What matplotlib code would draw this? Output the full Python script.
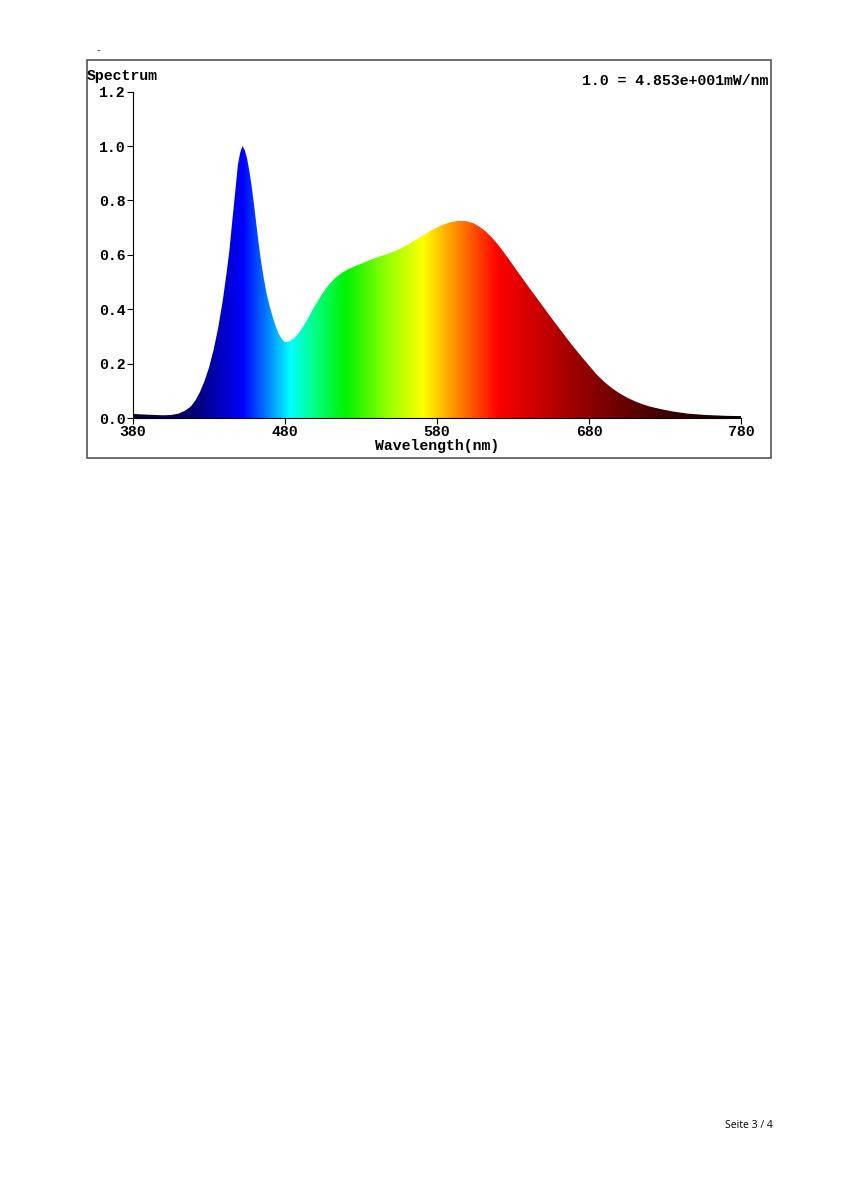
import numpy as np
import matplotlib
matplotlib.use('Agg')
import matplotlib.pyplot as plt
import matplotlib.patches as mplpatches
from matplotlib.colors import LinearSegmentedColormap

# spectrum (normalised, 1.0 = 48.53 mW/nm)
wavelength = [380, 390, 400, 405, 410, 414, 418, 421, 424, 427, 430, 433, 436, 439, 441.5, 443.5, 445.5,
              447.5, 449, 450.5, 452, 453.5, 455, 456.5, 458, 459.5, 461, 462.5, 464, 466, 468, 470, 472,
              474, 476, 478, 480, 483, 486, 489, 492, 495, 498, 501, 504, 507, 510, 513, 516, 519, 522,
              526, 531, 537, 543, 549, 555, 561, 567, 573, 579, 584, 589, 594, 599, 604, 608, 612, 616,
              620, 624, 628, 632, 636, 640, 645, 650, 655, 660, 665, 670, 675, 680, 685, 690, 695, 700,
              705, 710, 715, 720, 727, 735, 745, 757, 770, 780]
intensity = [0.015, 0.012, 0.010, 0.011, 0.016, 0.026, 0.042, 0.064, 0.095, 0.135, 0.185, 0.25, 0.33,
             0.43, 0.53, 0.62, 0.735, 0.845, 0.93, 0.975, 1.0, 0.985, 0.955, 0.91, 0.855, 0.79, 0.72,
             0.65, 0.585, 0.515, 0.455, 0.41, 0.37, 0.335, 0.308, 0.29, 0.279, 0.282, 0.293, 0.312,
             0.337, 0.365, 0.396, 0.425, 0.452, 0.476, 0.497, 0.514, 0.528, 0.539, 0.548, 0.558, 0.569,
             0.583, 0.595, 0.606, 0.62, 0.638, 0.658, 0.679, 0.698, 0.711, 0.72, 0.725, 0.724, 0.716,
             0.703, 0.686, 0.664, 0.638, 0.609, 0.578, 0.546, 0.515, 0.484, 0.446, 0.408, 0.37, 0.333,
             0.296, 0.26, 0.226, 0.193, 0.16, 0.133, 0.11, 0.091, 0.075, 0.062, 0.051, 0.042, 0.033,
             0.024, 0.016, 0.011, 0.008, 0.007]

xticks = [380, 480, 580, 680, 780]
yticks = [0.0, 0.2, 0.4, 0.6, 0.8, 1.0, 1.2]

# colour stops along the wavelength axis
stop_nm = [380, 420, 440, 452, 468, 483, 500, 520, 548, 571, 595, 620, 666, 720, 780]
stop_col = [(0.02, 0.02, 0.15), (0.0, 0.0, 0.45), (0.0, 0.0, 0.8), (0.0, 0.0, 1.0), (0.0, 0.5, 1.0),
            (0.0, 1.0, 1.0), (0.0, 1.0, 0.5), (0.0, 0.95, 0.0), (0.6, 1.0, 0.0), (1.0, 1.0, 0.0),
            (1.0, 0.5, 0.0), (1.0, 0.0, 0.0), (0.65, 0.0, 0.0), (0.3, 0.0, 0.0), (0.0, 0.0, 0.0)]

mono = 'Liberation Mono'
fs = 10.75

fig = plt.figure(figsize=(8.49, 12), dpi=100)

# outer frame
frame = mplpatches.Rectangle((87/849, 1-458/1200), (771-87)/849, 398/1200, transform=fig.transFigure,
                             fill=False, edgecolor='#555555', linewidth=1.2)
fig.patches.append(frame)
fig.text(97/849, 1-50/1200, '-', fontsize=7, color='#444444', ha='left', va='center')

ax = fig.add_axes([133/849, 1-418/1200, (741-133)/849, 326.4/1200])

pos = [(w - 380) / 400 for w in stop_nm]
cmap = LinearSegmentedColormap.from_list('spec', list(zip(pos, stop_col)), N=512)
grad = np.linspace(0, 1, 800).reshape(1, -1)
img = ax.imshow(grad, cmap=cmap, extent=[380, 780, 0, 1.2], aspect='auto', origin='lower', zorder=1)
poly = ax.fill_between(wavelength, intensity, 0, color='none', linewidth=0)
clip = poly.get_paths()[0]
img.set_clip_path(clip, transform=ax.transData)

ax.set_xlim(380, 780)
ax.set_ylim(0, 1.2)
ax.set_xticks(xticks)
ax.set_yticks(yticks)
ax.set_xticklabels([str(v) for v in xticks], fontfamily=mono, fontweight='bold', fontsize=fs)
ax.set_yticklabels(['%.1f' % v for v in yticks], fontfamily=mono, fontweight='bold', fontsize=fs)
ax.tick_params(axis='both', direction='out', length=4, width=0.8, pad=1)
ax.spines['top'].set_visible(False)
ax.spines['right'].set_visible(False)
ax.spines['left'].set_linewidth(0.8)
ax.spines['bottom'].set_linewidth(0.8)
ax.set_xlabel('Wavelength(nm)', fontfamily=mono, fontweight='bold', fontsize=fs, labelpad=0)

fig.text(87/849, 1-76/1200, 'Spectrum', fontfamily=mono, fontweight='bold', fontsize=fs,
         ha='left', va='center')
fig.text(768/849, 1-81/1200, '1.0 = 4.853e+001mW/nm', fontfamily=mono, fontweight='bold', fontsize=fs,
         ha='right', va='center')

fig.text(773/849, 1-1125/1200, 'Seite 3 / 4', fontfamily='Open Sans', fontsize=7.5, ha='right', va='center')

plt.savefig('out.png', dpi=100)
